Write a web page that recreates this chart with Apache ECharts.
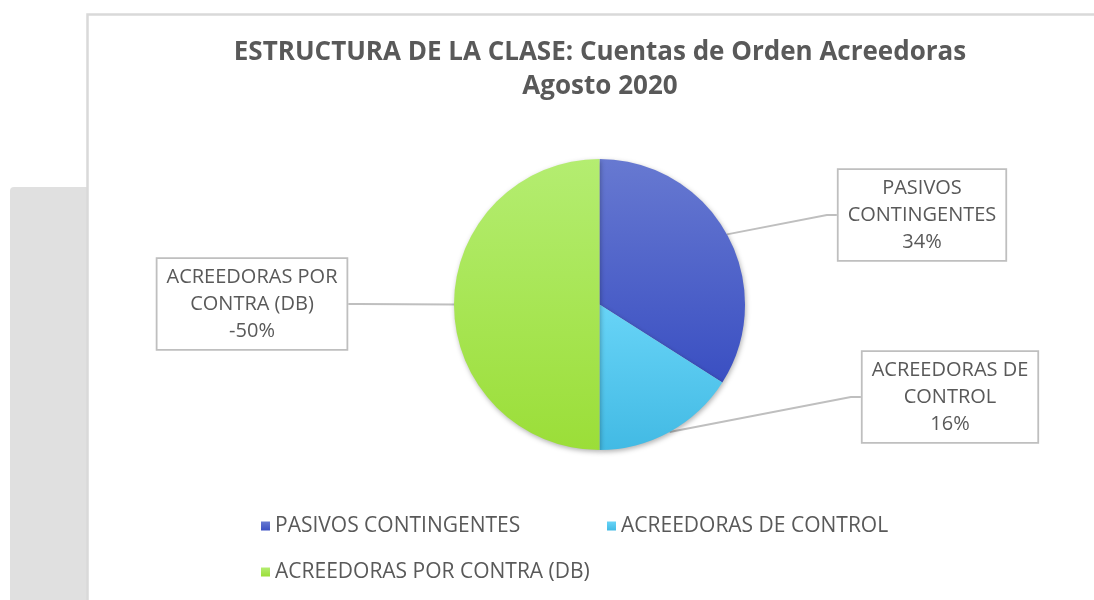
<!DOCTYPE html>
<html>
<head>
<meta charset="utf-8">
<style>
  html, body { margin: 0; padding: 0; background: #fff; }
  #chart { width: 1094px; height: 600px; }
</style>
<script src="https://cdn.jsdelivr.net/npm/echarts@6/dist/echarts.min.js"></script>
</head>
<body>
<div id="chart"></div>
<script>
// data
const categories = ['PASIVOS CONTINGENTES', 'ACREEDORAS DE CONTROL', 'ACREEDORAS POR CONTRA (DB)']
const labelNames = ['PASIVOS\nCONTINGENTES', 'ACREEDORAS DE\nCONTROL', 'ACREEDORAS POR\nCONTRA (DB)']
const shares = [34, 16, -50]

const gray = '#595959'
const font = 'Open Sans'

// gradients top -> bottom per slice
const sliceColors = [
  ['#6779d1', '#3a4fc2'],
  ['#68d4f7', '#42bae4'],
  ['#b4ed71', '#9bde38']
]

// where each callout box sits (center)
const calloutPos = [
  [922, 215],
  [950, 397],
  [252, 304]
]

const chart = echarts.init(document.getElementById('chart'))

chart.setOption({
  backgroundColor: '#fff',
  graphic: [{
    type: 'rect',
    z: -10,
    shape: { x: 10, y: 187, width: 77, height: 420, r: [4, 0, 0, 0] },
    style: { fill: '#e0e0e0' }
  }, {
    type: 'rect',
    z: -9,
    shape: { x: 87.5, y: 14.5, width: 1100, height: 700 },
    style: { fill: '#fff', stroke: '#d9d9d9', lineWidth: 2.5 }
  }],
  title: {
    text: 'ESTRUCTURA DE LA CLASE: Cuentas de Orden Acreedoras\nAgosto 2020',
    left: 600,
    top: 36,
    padding: 0,
    textAlign: 'center',
    textStyle: {
      fontFamily: font,
      fontWeight: 'bold',
      fontSize: 26,
      lineHeight: 34,
      color: gray
    }
  },
  legend: {
    left: 261,
    top: 513,
    padding: 0,
    width: 700,
    itemGap: 20,
    itemWidth: 9,
    itemHeight: 9,
    icon: 'rect',
    textStyle: {
      fontFamily: font,
      fontSize: 21,
      color: gray,
      width: 312,
      lineHeight: 26
    },
    data: categories
  },
  series: [{
    type: 'pie',
    center: [599.5, 304.5],
    radius: 145.5,
    startAngle: 90,
    clockwise: true,
    animation: false,
    itemStyle: {
      shadowBlur: 5,
      shadowColor: 'rgba(0,0,0,0.3)',
      shadowOffsetX: 1,
      shadowOffsetY: 2
    },
    emphasis: { disabled: true },
    label: {
      show: true,
      formatter: function (p) {
        return labelNames[p.dataIndex] + '\n' + shares[p.dataIndex] + '%'
      },
      fontFamily: font,
      fontSize: 20,
      lineHeight: 27,
      color: gray,
      align: 'center',
      backgroundColor: '#fff',
      borderColor: '#bfbfbf',
      borderWidth: 1.8,
      padding: [5, 9, 4, 9]
    },
    labelLine: {
      show: true,
      length: 10,
      length2: 10,
      lineStyle: { color: '#bfbfbf', width: 1.8 }
    },
    labelLayout: function (p) {
      const c = calloutPos[p.dataIndex]
      return {
        x: c[0],
        y: c[1],
        align: 'center',
        verticalAlign: 'middle'
      }
    },
    data: categories.map(function (name, i) {
      return {
        name: name,
        value: Math.abs(shares[i]),
        itemStyle: {
          color: new echarts.graphic.LinearGradient(0, 0, 0, 1, [
            { offset: 0, color: sliceColors[i][0] },
            { offset: 1, color: sliceColors[i][1] }
          ])
        }
      }
    })
  }],
  color: ['#3f55c6', '#4fc6ee', '#a2e248']
})
</script>
</body>
</html>
